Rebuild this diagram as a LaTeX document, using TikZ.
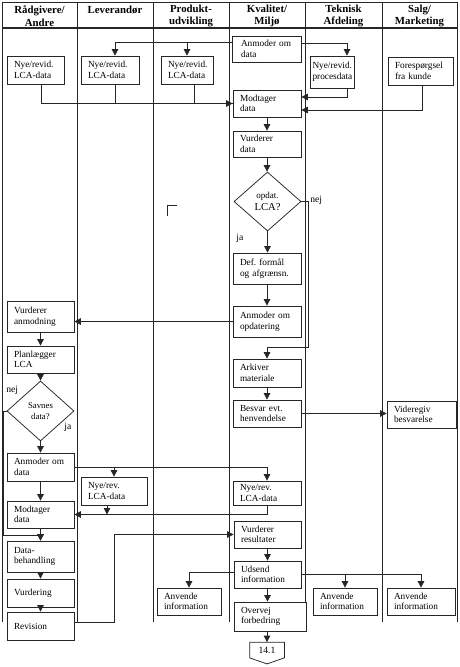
\documentclass[tikz,border=0pt]{standalone}
\usepackage{fontspec}
\setmainfont{Liberation Serif}
\usetikzlibrary{arrows.meta,shapes.geometric,calc}
\frenchspacing
\newcommand\flowpad{7}
\newcommand\flowbox[6]{%
  \pgfmathsetmacro\flowbw{#4-#2-2*\flowpad}%
  \pgfmathsetmacro\flowbh{#5-#3}%
  \node[box, inner xsep=\flowpad pt, text width=\flowbw pt, minimum height=\flowbh pt] (#1) at ({(#2+#4)/2},{(#3+#5)/2}) {#6};}
\begin{document}
\begin{tikzpicture}[x=1pt,y=-1pt,
  line width=0.75pt, draw=black!85,
  box/.style={draw=black!85, fill=white, align=left, inner ysep=0pt, font=\fontsize{9.3}{10.6}\selectfont},
  hdr/.style={align=center, inner sep=0pt, font=\fontsize{10.8}{12.6}\selectfont\bfseries},
  dec/.style={draw=black!85, fill=white, diamond, inner sep=0pt, align=center},
  arr/.style={-{Triangle[length=6.5pt,width=6.5pt]}},
  lbl/.style={font=\fontsize{9.6}{11}\selectfont, inner sep=0pt, anchor=west}]
\useasboundingbox[fill=white] (0,0) rectangle (460,667);

% lanes and header
\foreach \x in {2,77,153,229,305,382,457} \draw (\x,2) -- (\x,622);
\draw (2,2) -- (457,2);
\draw[line width=1.3pt] (2,28) -- (457,28);
\node[hdr] (h1) at (39.5,16) {Rådgivere/\\Andre};
\node[hdr] (h2) at (115,16) {Leverandør\\\phantom{A}};
\node[hdr] (h3) at (191,16) {Produkt-\\udvikling};
\node[hdr] (h4) at (267,16) {Kvalitet/\\Miljø};
\node[hdr] (h5) at (343.5,16) {Teknisk\\Afdeling};
\node[hdr] (h6) at (419.5,16) {Salg/\\Marketing};

% boxes
\renewcommand\flowpad{9}
\flowbox{a1}{232}{36}{301}{62}{Anmoder om\\data}
\renewcommand\flowpad{7}
\flowbox{rad1}{7}{56}{64}{84}{Nye/revid.\\LCA-data}
\flowbox{lev1}{81}{56}{139}{84}{Nye/revid.\\LCA-data}
\flowbox{prod1}{161}{56}{213}{84}{Nye/revid.\\LCA-data}
\renewcommand\flowpad{2.5}
\flowbox{tek1}{310}{56}{354}{88}{Nye/revid.\\procesdata}
\renewcommand\flowpad{7}
\flowbox{sal1}{388}{57}{453}{85}{Forespørgsel\\fra kunde}
\flowbox{mod1}{233}{90}{301}{117}{Modtager\\data}
\flowbox{vd1}{233}{131}{301}{157}{Vurderer\\data}
\node[dec, minimum width=67pt, minimum height=59pt] (dia1) at (267.5,201.5)
  {{\fontsize{9}{11}\selectfont opdat.}\\{\fontsize{10.6}{12}\selectfont LCA?}};
\flowbox{def1}{233}{253}{301}{284}{Def. formål\\og afgrænsn.}
\flowbox{aop1}{233}{306}{301}{337}{Anmoder om\\opdatering}
\flowbox{ark1}{233}{359}{301}{387}{Arkiver\\materiale}
\flowbox{bes1}{233}{400}{301}{427}{Besvar evt.\\henvendelse}
\flowbox{vid1}{387}{401}{456}{428}{Videregiv\\besvarelse}
\flowbox{vra1}{7}{301}{74}{332}{Vurderer\\anmodning}
\flowbox{pla1}{7}{346}{74}{373}{Planlægger\\LCA}
\node[dec, minimum width=67pt, minimum height=60pt, font=\fontsize{8.8}{11}\selectfont] (dia2) at (40.5,411) {Savnes\\data?};
\flowbox{aod1}{7}{453}{74}{481}{Anmoder om\\data}
\flowbox{levn1}{81}{477}{147}{505}{Nye/rev.\\LCA-data}
\flowbox{kvn1}{233}{481}{301}{505}{Nye/rev.\\LCA-data}
\flowbox{mod2}{7}{501}{74}{528}{Modtager\\data}
\flowbox{dbh1}{7}{541}{74}{572}{Data-\\behandling}
\flowbox{vdg1}{7}{579}{74}{607}{Vurdering}
\flowbox{rev1}{7}{612}{74}{640}{Revision}
\flowbox{vres1}{234}{521}{301}{548}{Vurderer\\resultater}
\flowbox{uds1}{234}{561}{301}{588}{Udsend\\information}
\flowbox{ovv1}{234}{602}{306}{631}{Overvej\\forbedring}
\flowbox{anv1}{157}{588}{221}{615}{Anvende\\information}
\flowbox{anv2}{313}{588}{377}{615}{Anvende\\information}
\flowbox{anv3}{387}{588}{455}{615}{Anvende\\information}
\node[minimum width=34pt, minimum height=15pt, inner sep=0pt, font=\fontsize{9.6}{11}\selectfont] (c141) at (267,650) {14.1};
\draw (c141.north west) -- (c141.north east) -- (c141.south east) -- ([yshift=-6pt]c141.south) -- (c141.south west) -- cycle;

% labels
\node[lbl] (nej1) at (310,200) {nej};
\node[lbl] (ja1) at (236,238) {ja};
\node[lbl] (nej2) at (6,390) {nej};
\node[lbl] (ja2) at (64,427) {ja};

% connectors: top
\draw[arr] ([yshift=7pt]a1.west) -| ([xshift=5pt]lev1.north);
\draw[arr] ([yshift=7pt]a1.west) -| (prod1.north);
\draw[arr] ([yshift=6pt]a1.east) -| ([xshift=15pt]tek1.north);
\draw[arr] ([xshift=5.5pt]rad1.south) |- (mod1.west);
\draw ([xshift=5pt]lev1.south) |- (mod1.west);
\draw ([xshift=7pt]prod1.south) |- (mod1.west);
\draw[arr] ([xshift=15pt]tek1.south) |- ([yshift=6.5pt]mod1.east);
\draw[arr] ([xshift=1.5pt]sal1.south) |- ([yshift=-6.5pt]mod1.east);

% Kvalitet column
\draw[arr] (mod1.south) -- (mod1.south |- vd1.north);
\draw[arr] (vd1.south) -- (vd1.south |- dia1.north);
\draw[arr] (dia1.south) -- (dia1.south |- def1.north);
\draw[arr] (def1.south) -- (def1.south |- aop1.north);
\draw[arr] (aop1.west) -- (aop1.west -| vra1.east);
\coordinate (nj1) at (308,347);
\draw[arr] (dia1.east) -| (nj1) -| (ark1.north);
\draw[arr] (ark1.south) -- (ark1.south |- bes1.north);
\draw[arr] (bes1.east) -- (bes1.east -| vid1.west);

% Raadgivere column
\draw[arr] (vra1.south) -- (vra1.south |- pla1.north);
\draw[arr] (pla1.south) -- (pla1.south |- dia2.north);
\draw[arr] (dia2.south) -- (dia2.south |- aod1.north);
\coordinate (nj2) at (3.5,535);
\draw[arr] (dia2.west) -- (dia2.west -| nj2) -- (nj2) -| (dbh1.north);
\draw[arr] (aod1.east) -| (levn1.north);
\draw[arr] (aod1.east) -| (kvn1.north);
\draw[arr] (kvn1.south) |- (mod2.east);
\draw[arr] ([xshift=-7pt]levn1.south) -- ([xshift=-7pt]levn1.south |- mod2.east);
\draw[arr] (aod1.south) -- (aod1.south |- mod2.north);
\draw[arr] (mod2.south) -- (mod2.south |- dbh1.north);
\draw[arr] (dbh1.south) -- (dbh1.south |- vdg1.north);
\draw[arr] (vdg1.south) -- (vdg1.south |- rev1.north);
\draw[arr] ([yshift=4pt]rev1.east) -| (levn1.south |- vres1.west) -- (vres1.west);

% bottom
\draw[arr] (vres1.south) -- (vres1.south |- uds1.north);
\draw[arr] (uds1.south) -- (uds1.south |- ovv1.north);
\draw[arr] (c141.north |- ovv1.south) -- (c141.north);
\draw[arr] ([yshift=2.5pt]uds1.west) -| (anv1.north);
\draw[arr] (uds1.east) -| (anv2.north);
\draw[arr] (uds1.east) -| (anv3.north);

% stray corner mark
\draw (167,216) -- (167,205) -- (177,205);
\end{tikzpicture}
\end{document}
